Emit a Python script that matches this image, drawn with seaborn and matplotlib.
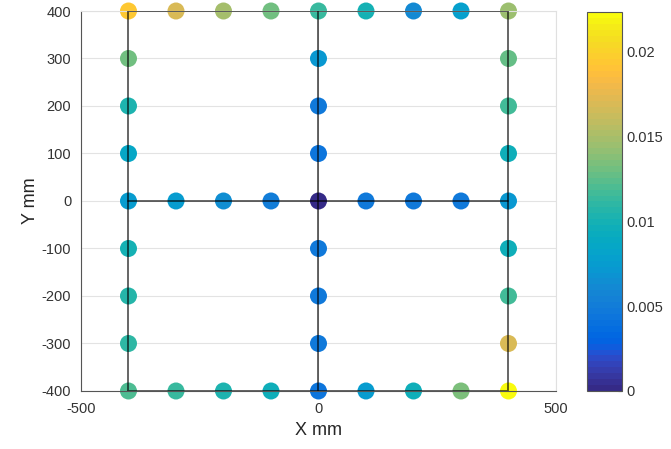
import numpy as np
import pandas as pd
import matplotlib
matplotlib.use("Agg")
import matplotlib.pyplot as plt
from matplotlib.colors import ListedColormap, Normalize
import seaborn as sns

# ---- data ----
x_vals = [-400, -300, -200, -100, 0, 100, 200, 300, 400,
          -400, -400, -400, -400, -400, -400, -400,
          0, 0, 0, 0, 0, 0, 0,
          400, 400, 400, 400, 400, 400, 400,
          -300, -200, -100, 100, 200, 300,
          -400, -300, -200, -100, 0, 100, 200, 300, 400]
y_vals = [400] * 9 + \
         [300, 200, 100, 0, -100, -200, -300] + \
         [300, 200, 100, 0, -100, -200, -300] + \
         [300, 200, 100, 0, -100, -200, -300] + \
         [0] * 6 + \
         [-400] * 9
err_vals = [0.0192, 0.0168, 0.0148, 0.0130, 0.0113, 0.0098, 0.0062, 0.0078, 0.0145,
            0.0130, 0.0102, 0.0085, 0.0075, 0.0098, 0.0106, 0.0110,
            0.0070, 0.0048, 0.0045, 0.0003, 0.0047, 0.0047, 0.0047,
            0.0128, 0.0117, 0.0097, 0.0070, 0.0095, 0.0117, 0.0168,
            0.0075, 0.0065, 0.0050, 0.0048, 0.0047, 0.0047,
            0.0120, 0.0113, 0.0102, 0.0097, 0.0045, 0.0075, 0.0095, 0.0135, 0.0223]
square_x = [-400, 400, 400, -400, -400]
square_y = [-400, -400, 400, 400, -400]
cross_h = ([-400, 400], [0, 0])
cross_v = ([0, 0], [-400, 400])
vmin, vmax = 0.0, 0.0223

parula_data = [
    [0.2081, 0.1663, 0.5292], [0.2116, 0.1898, 0.5777], [0.2123, 0.2138, 0.6270],
    [0.2081, 0.2386, 0.6771], [0.1959, 0.2645, 0.7279], [0.1707, 0.2919, 0.7792],
    [0.1253, 0.3242, 0.8303], [0.0591, 0.3598, 0.8683], [0.0117, 0.3875, 0.8820],
    [0.0060, 0.4086, 0.8828], [0.0165, 0.4266, 0.8786], [0.0329, 0.4430, 0.8720],
    [0.0498, 0.4586, 0.8641], [0.0629, 0.4737, 0.8554], [0.0723, 0.4887, 0.8467],
    [0.0779, 0.5040, 0.8384], [0.0793, 0.5200, 0.8312], [0.0749, 0.5375, 0.8263],
    [0.0641, 0.5570, 0.8240], [0.0488, 0.5772, 0.8228], [0.0343, 0.5966, 0.8199],
    [0.0265, 0.6137, 0.8135], [0.0239, 0.6287, 0.8038], [0.0231, 0.6418, 0.7913],
    [0.0228, 0.6535, 0.7768], [0.0267, 0.6642, 0.7607], [0.0384, 0.6743, 0.7436],
    [0.0590, 0.6838, 0.7254], [0.0843, 0.6928, 0.7062], [0.1133, 0.7015, 0.6859],
    [0.1453, 0.7098, 0.6646], [0.1801, 0.7177, 0.6424], [0.2178, 0.7250, 0.6193],
    [0.2586, 0.7317, 0.5954], [0.3022, 0.7376, 0.5712], [0.3482, 0.7424, 0.5473],
    [0.3953, 0.7459, 0.5244], [0.4420, 0.7481, 0.5033], [0.4871, 0.7491, 0.4840],
    [0.5300, 0.7491, 0.4661], [0.5709, 0.7485, 0.4494], [0.6099, 0.7473, 0.4337],
    [0.6473, 0.7456, 0.4188], [0.6834, 0.7435, 0.4044], [0.7184, 0.7411, 0.3905],
    [0.7525, 0.7384, 0.3768], [0.7858, 0.7356, 0.3633], [0.8185, 0.7327, 0.3498],
    [0.8507, 0.7299, 0.3360], [0.8824, 0.7274, 0.3217], [0.9139, 0.7258, 0.3063],
    [0.9450, 0.7261, 0.2886], [0.9739, 0.7314, 0.2666], [0.9938, 0.7455, 0.2403],
    [0.9990, 0.7653, 0.2164], [0.9955, 0.7861, 0.1967], [0.9880, 0.8066, 0.1794],
    [0.9789, 0.8271, 0.1633], [0.9697, 0.8481, 0.1475], [0.9626, 0.8705, 0.1309],
    [0.9589, 0.8949, 0.1132], [0.9598, 0.9218, 0.0948], [0.9661, 0.9514, 0.0755],
    [0.9763, 0.9831, 0.0538],
]
parula = ListedColormap(parula_data, name="parula")

df = pd.DataFrame({"x": x_vals, "y": y_vals, "err": err_vals})

sns.set_style("white")
plt.rcParams["font.family"] = ["Liberation Sans", "DejaVu Sans"]
plt.rcParams["axes.unicode_minus"] = False

fig = plt.figure(figsize=(6.71, 4.49), dpi=100)
ax = fig.add_axes([0.1207, 0.1292, 0.7079, 0.8463])
cax = fig.add_axes([0.8748, 0.1292, 0.052, 0.8441])

norm = Normalize(vmin=vmin, vmax=vmax)
ax.plot(square_x, square_y, color=(0, 0, 0, 0.65), lw=1.3, zorder=3)
ax.plot(*cross_h, color=(0, 0, 0, 0.65), lw=1.3, zorder=3)
ax.plot(*cross_v, color=(0, 0, 0, 0.65), lw=1.3, zorder=3)
sns.scatterplot(data=df, x="x", y="y", hue="err", palette=parula, hue_norm=norm,
                s=150, edgecolor="none", legend=False, ax=ax, zorder=2,
                clip_on=False)

ax.set_xlim(-500, 500)
ax.set_ylim(-400, 400)
ax.set_xticks([-500, 0, 500])
ax.set_yticks(np.arange(-400, 401, 100))
ax.grid(True, color="#e3e3e3", lw=0.8)
ax.set_axisbelow(True)
for side in ["top", "right"]:
    ax.spines[side].set_color("#e0e0e0")
for side in ["left", "bottom"]:
    ax.spines[side].set_color("#555555")
    ax.spines[side].set_linewidth(0.8)
ax.tick_params(direction="in", length=3, labelsize=10.5, colors="#333333")
ax.tick_params(axis="x", pad=8)
ax.tick_params(axis="y", pad=7)
ax.set_xlabel("X mm", fontsize=13, labelpad=4)
ax.set_ylabel("Y mm", fontsize=13, labelpad=2)

sm = matplotlib.cm.ScalarMappable(norm=norm, cmap=parula)
cb = fig.colorbar(sm, cax=cax)
cb.set_ticks([0, 0.005, 0.01, 0.015, 0.02])
cb.set_ticklabels(["0", "0.005", "0.01", "0.015", "0.02"])
cb.ax.tick_params(direction="in", length=3, labelsize=10.5, colors="#333333")
cb.outline.set_edgecolor("#555555")
cb.outline.set_linewidth(0.8)

fig.savefig("out.png", dpi=100)
